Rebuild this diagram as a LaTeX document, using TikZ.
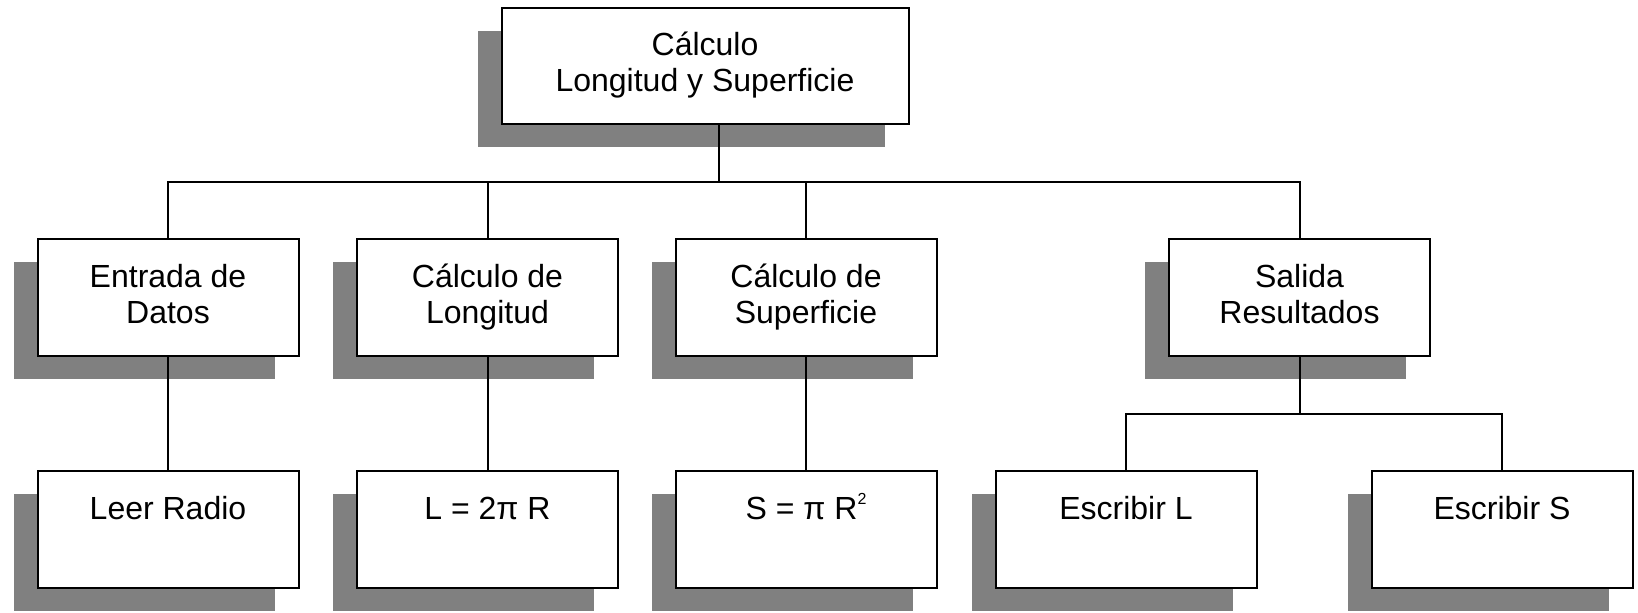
\documentclass[tikz,border=0pt]{standalone}
\usepackage{fontspec}
\setmainfont{Liberation Sans}
\usetikzlibrary{shadows}
\begin{document}
\begin{tikzpicture}[x=0.5pt,y=-0.5pt,
  box/.style={draw=black, line width=1pt, fill=white, minimum width=130.5pt, minimum height=58.5pt,
    align=center, inner sep=0pt, font=\fontsize{16}{18}\selectfont,
    drop shadow={shadow xshift=-12pt, shadow yshift=-11.5pt, fill=gray, opacity=1}},
  conn/.style={line width=1pt}]
\useasboundingbox (0,0) rectangle (1638,613);
\node[box, minimum width=203.5pt, minimum height=58pt] (top) at (705,66) {Cálculo\strut\\Longitud y Superficie\strut};
\node[box] (e)  at (168,298)   {Entrada de\strut\\Datos\strut};
\node[box] (cl) at (487.5,298) {Cálculo de\strut\\Longitud\strut};
\node[box] (cs) at (806,298)   {Cálculo de\strut\\Superficie\strut};
\node[box] (sa) at (1299.5,298) {Salida\strut\\Resultados\strut};
\node[box] (lr) at (168,530)   {Leer Radio\strut\\\strut};
\node[box] (ll) at (487.5,530) {L = 2π R\strut\\\strut};
\node[box] (ls) at (806,530)   {S = π R\raisebox{7.5pt}{\fontsize{8}{8}\selectfont 2}\strut\\\strut};
\node[box] (el) at (1126,530)  {Escribir L\strut\\\strut};
\node[box] (es) at (1502,530)  {Escribir S\strut\\\strut};
\coordinate (j) at (719,182);
\coordinate (k) at (1299.5,414);
\draw[conn] (top.south -| j) -- (j);
\draw[conn] (e.north) |- (j) -| (sa.north);
\draw[conn] (cl.north) -- (cl.north |- j);
\draw[conn] (cs.north) -- (cs.north |- j);
\draw[conn] (e.south) -- (lr.north);
\draw[conn] (cl.south) -- (ll.north);
\draw[conn] (cs.south) -- (ls.north);
\draw[conn] (sa.south) -- (k);
\draw[conn] (el.north) |- (k) -| (es.north);
\end{tikzpicture}
\end{document}
